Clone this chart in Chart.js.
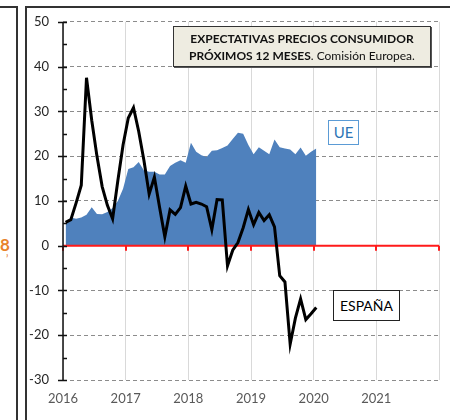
<!DOCTYPE html>
<html>
<head>
<meta charset="utf-8">
<script src="https://cdn.jsdelivr.net/npm/chart.js@4/dist/chart.umd.min.js"></script>
<style>
    body { margin: 0; background: #fff; }
    #contenedor { position: relative; width: 450px; height: 420px; overflow: hidden; font-family: Lato, "Open Sans", sans-serif; }
    #grafica { position: absolute; left: 0; top: 0; }
    .marco { position: absolute; border: 2px solid #333; }
    .caja { position: absolute; text-align: center; box-sizing: border-box; }
</style>
</head>
<body>
<div id="contenedor">
    <div class="marco" style="left:-10px; top:6px; width:24px; height:500px;"></div>
    <div class="marco" style="left:25px; top:6px; width:500px; height:500px;"></div>
    <div style="position:absolute; left:0px; top:234px; color:#E8822A; font-weight:bold; font-size:17px;">8</div>
    <div style="position:absolute; left:6px; top:252px; color:#E8822A; font-size:11px;">’</div>
    <canvas id="grafica" width="450" height="420"></canvas>
    <div class="caja" style="left:173px; top:26px; width:258px; height:41px; background:#EEECE1; border:1px solid #333; box-shadow:1px 1px 0 #555; font-size:12px; line-height:17px; padding-top:3px; color:#111;">
        <b>EXPECTATIVAS PRECIOS CONSUMIDOR</b><br><b>PRÓXIMOS 12 MESES</b>. Comisión Europea.
    </div>
    <div class="caja" style="left:328px; top:120px; width:31px; height:25px; background:#fff; border:1px solid #5B9BD5; color:#2E75B6; font-size:15px; line-height:23px;">UE</div>
    <div class="caja" style="left:333px; top:290px; width:67px; height:31px; background:#fff; border:1px solid #222; color:#000; font-size:14px; line-height:29px;">ESPAÑA</div>
</div>
<script>
// meses desde enero 2016 hasta enero 2020
const anioInicio = 2016;
const espana = [5.2, 5.8, 9.5, 13.5, 37.5, 28, 20, 13.2, 9, 6, 14.5, 22.5, 28.5, 30.8, 25.5, 19, 11.5, 15.3, 8.5, 2,
    8, 7, 8.5, 13.3, 9.3, 9.7, 9.3, 8.7, 3.6, 10.3, 10.2, -4.5, -1, 0.7, 4, 8.1, 4.7, 7.4, 5.6, 6.9,
    4.2, -6.7, -8.1, -22, -16.2, -11.9, -16.5, -15.2, -13.8];
const ue = [5, 6.3, 6, 6.3, 6.9, 8.6, 7.1, 7, 7.5, 8.4, 10, 12.7, 17.1, 17.5, 18.7, 16.8, 16.5, 16.5, 15.9, 15.9,
    17.8, 18.5, 19.1, 18.5, 23, 21, 20.2, 19.8, 21.2, 21.3, 21.8, 22.4, 23.8, 25.2, 25, 22.5, 20.4, 22, 21.2, 20.4,
    23.7, 22, 21.7, 21.5, 20.4, 21.9, 20.1, 21, 21.7];
const anios = [2016, 2017, 2018, 2019, 2020, 2021];
const yMin = -30;
const yMax = 50;

function puntos(valores){
    let datos = [];
    for (let i = 0; i < valores.length; i++){
        datos.push({x: i + 0.5, y: valores[i]});
    }
    return datos;
}

// eje vertical negro con marcas y linea roja en cero
const ejes = {
    id: 'ejes',
    afterDatasetDraw(chart, args){
        if (args.index != 1) return;
        const ctx = chart.ctx;
        const area = chart.chartArea;
        const x = chart.scales.x;
        const y = chart.scales.y;
        const cero = y.getPixelForValue(0);
        ctx.save();
        ctx.strokeStyle = '#ff1a1a';
        ctx.lineWidth = 2;
        ctx.beginPath();
        ctx.moveTo(area.left, cero);
        ctx.lineTo(area.right, cero);
        for (let a = 0; a <= anios.length; a++){
            const px = Math.round(x.getPixelForValue(a * 12));
            ctx.moveTo(px, cero);
            ctx.lineTo(px, cero + 5);
        }
        ctx.stroke();
        ctx.restore();
    },
    afterDraw(chart){
        const ctx = chart.ctx;
        const area = chart.chartArea;
        const y = chart.scales.y;
        const izq = area.left;
        ctx.save();
        ctx.strokeStyle = '#111';
        ctx.lineWidth = 1.5;
        ctx.beginPath();
        ctx.moveTo(izq, area.top);
        ctx.lineTo(izq, area.bottom);
        for (let v = yMin; v <= yMax; v += 5){
            const py = Math.round(y.getPixelForValue(v)) + 0.5;
            if (v % 10 == 0){
                ctx.moveTo(izq - 5, py);
            } else {
                ctx.moveTo(izq, py);
            }
            ctx.lineTo(izq + 4, py);
        }
        ctx.stroke();
        ctx.restore();
    }
};

const ctx = document.getElementById('grafica').getContext('2d');
const grafica = new Chart(ctx, {
    type: 'line',
    data: {
        datasets: [{
            label: 'ESPAÑA',
            data: puntos(espana),
            borderColor: '#000',
            borderWidth: 3,
            pointRadius: 0,
            fill: false,
            tension: 0,
            order: 0
        }, {
            label: 'UE',
            data: puntos(ue),
            backgroundColor: '#4F81BD',
            borderColor: '#4F81BD',
            borderWidth: 0,
            pointRadius: 0,
            fill: 'origin',
            tension: 0,
            order: 1
        }]
    },
    options: {
        responsive: false,
        animation: false,
        layout: { padding: { left: 0, right: 7, top: 16, bottom: 0 } },
        plugins: { legend: { display: false }, tooltip: { enabled: false } },
        scales: {
            x: {
                type: 'linear',
                min: 0,
                max: anios.length * 12,
                afterFit: function(s){ s.height = 40; },
                afterBuildTicks: function(s){
                    s.ticks = [];
                    for (let a = 0; a <= anios.length; a++) s.ticks.push({value: a * 12});
                },
                ticks: {
                    autoSkip: false,
                    maxRotation: 0,
                    padding: 11,
                    color: '#595959',
                    font: { family: 'Lato', size: 13 },
                    callback: function(v){
                        const a = v / 12;
                        return a < anios.length ? String(anios[a]) : '';
                    }
                },
                grid: { color: '#d9d9d9', lineWidth: 1, drawTicks: false },
                border: { display: false }
            },
            y: {
                min: yMin,
                max: yMax,
                afterFit: function(s){ s.width = 63; },
                ticks: {
                    stepSize: 10,
                    padding: 14,
                    color: '#262626',
                    font: { family: 'Lato', size: 13 }
                },
                grid: {
                    color: function(c){ return c.tick && c.tick.value == 0 ? 'rgba(0,0,0,0)' : '#8c8c8c'; },
                    lineWidth: 1,
                    drawTicks: false
                },
                border: { display: false, dash: [4, 3] }
            }
        }
    },
    plugins: [ejes]
});
</script>
</body>
</html>
